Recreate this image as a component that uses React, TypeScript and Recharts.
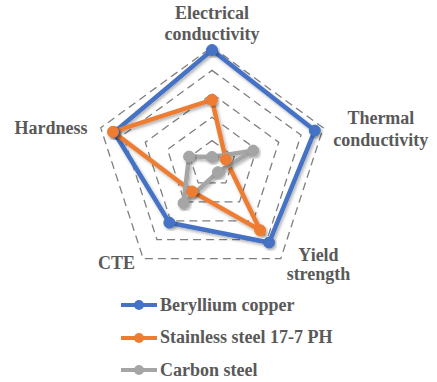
import { RadarChart, Radar, PolarGrid, PolarAngleAxis, PolarRadiusAxis, Legend } from 'recharts';

const properties = ['Electrical conductivity', 'Thermal conductivity', 'Yield strength', 'CTE', 'Hardness'];
const berylliumCopper = [4.87, 4.62, 4.15, 3.1, 4.4];
const stainlessSteel = [2.74, 0.62, 3.5, 1.45, 4.45];
const carbonSteel = [0.3, 1.85, 0.43, 2.07, 1.03];

const series = [
  { key: 'be', name: 'Beryllium copper', color: '#4472C4' },
  { key: 'ss', name: 'Stainless steel 17-7 PH', color: '#ED7D31' },
  { key: 'cs', name: 'Carbon steel', color: '#A5A5A5' },
];

const data = properties.map((p, i) => ({
  axis: p,
  be: berylliumCopper[i],
  ss: stainlessSteel[i],
  cs: carbonSteel[i],
}));

const FONT = '"Liberation Serif", "Times New Roman", serif';
const TEXT = '#595959';

// label lines + offsets from the tick point
const labelLayout: Record<string, { lines: string[]; dx: number; dy: number; gap: number }> = {
  'Electrical conductivity': { lines: ['Electrical', 'conductivity'], dx: 0, dy: -20, gap: 21 },
  'Thermal conductivity': { lines: ['Thermal', 'conductivity'], dx: 50, dy: -1, gap: 22 },
  'Yield strength': { lines: ['Yield', 'strength'], dx: 33, dy: -4, gap: 19 },
  CTE: { lines: ['CTE'], dx: -22, dy: 4, gap: 0 },
  Hardness: { lines: ['Hardness'], dx: -42, dy: 9, gap: 0 },
};

function AxisTick(props: any) {
  const { x, y, payload } = props;
  const l = labelLayout[payload.value];
  return (
    <text x={x + l.dx} y={y + l.dy} textAnchor="middle" fill={TEXT} fontFamily={FONT} fontWeight="bold" fontSize={18}>
      {l.lines.map((t, i) => (
        <tspan key={t} x={x + l.dx} dy={i === 0 ? 0 : l.gap}>{t}</tspan>
      ))}
    </text>
  );
}

function LegendBox() {
  return (
    <div style={{ fontFamily: FONT, fontWeight: 'bold', fontSize: 18, color: TEXT }}>
      {series.map((s) => (
        <div key={s.key} style={{ display: 'flex', alignItems: 'center', height: 32.5 }}>
          <svg width={38} height={14} style={{ marginRight: 2 }}>
            <line x1={1} y1={7} x2={37} y2={7} stroke={s.color} strokeWidth={4} />
            <circle cx={19} cy={7} r={5} fill={s.color} />
          </svg>
          <span>{s.name}</span>
        </div>
      ))}
    </div>
  );
}

export default function App() {
  return (
    <div style={{ position: 'absolute', left: 0, top: 0, width: 437, height: 382, background: '#fff' }}>
      <RadarChart width={437} height={382} cx={212} cy={164} outerRadius={117} data={data} margin={{ top: 0, right: 0, bottom: 0, left: 0 }}>
        <defs>
          <filter id="shadow" x="-20%" y="-20%" width="140%" height="140%">
            <feDropShadow dx="1.5" dy="2" stdDeviation="1.5" floodColor="#000" floodOpacity="0.3" />
          </filter>
        </defs>
        <PolarGrid gridType="polygon" radialLines={false} stroke="#7f7f7f" strokeWidth={1.3} strokeDasharray="8 5" />
        <PolarRadiusAxis domain={[0, 5]} tickCount={6} tick={false} axisLine={false} />
        <PolarAngleAxis dataKey="axis" tick={<AxisTick />} tickLine={false} axisLine={false} />
        {series.map((s) => (
          <Radar
            key={s.key}
            name={s.name}
            dataKey={s.key}
            stroke={s.color}
            strokeWidth={4.5}
            fill="none"
            fillOpacity={0}
            dot={{ r: 5.5, fill: s.color, fillOpacity: 1, stroke: s.color, strokeWidth: 1 }}
            style={{ filter: 'url(#shadow)' }}
            isAnimationActive={false}
          />
        ))}
        <Legend content={<LegendBox />} wrapperStyle={{ left: 120, top: 289, width: 260 }} />
      </RadarChart>
    </div>
  );
}
